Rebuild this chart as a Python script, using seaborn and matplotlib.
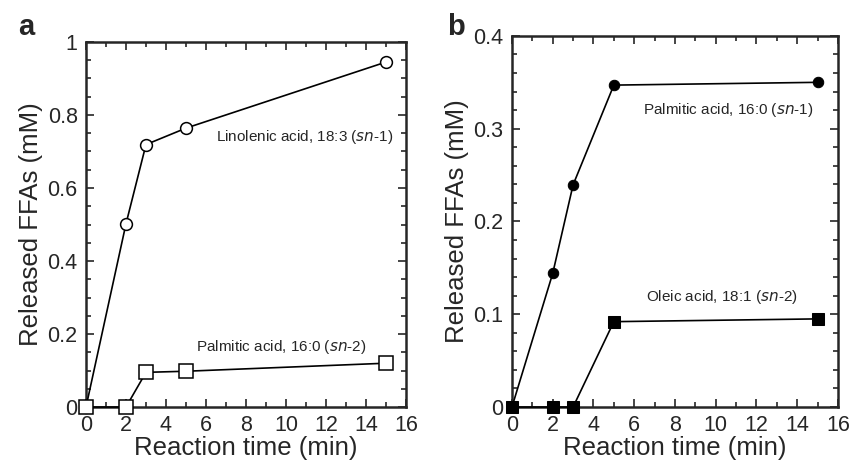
import matplotlib
matplotlib.use("Agg")
import matplotlib.pyplot as plt
import matplotlib.ticker as mticker
import seaborn as sns

# panel a
time_a = [0, 2, 3, 5, 15]
linolenic_sn1 = [0, 0.502, 0.719, 0.764, 0.945]
palmitic_sn2 = [0, 0, 0.095, 0.098, 0.12]

# panel b
time_b = [0, 2, 3, 5, 15]
palmitic_sn1 = [0, 0.144, 0.2395, 0.347, 0.35]
oleic_sn2 = [0, 0, 0, 0.092, 0.095]

sns.set_style("ticks")
plt.rcParams['font.family'] = ['Liberation Sans', 'DejaVu Sans']

fig = plt.figure(figsize=(8.6, 4.65), dpi=100)
ax_a = fig.add_axes([0.100, 0.1247, 0.372, 0.785])
ax_b = fig.add_axes([0.5953, 0.1247, 0.3791, 0.798])


def style_axes(ax, ymax, ymajor, yminor):
    ax.set_xlim(0, 16)
    ax.set_ylim(0, ymax)
    ax.xaxis.set_major_locator(mticker.MultipleLocator(2))
    ax.xaxis.set_minor_locator(mticker.MultipleLocator(1))
    ax.yaxis.set_major_locator(mticker.MultipleLocator(ymajor))
    ax.yaxis.set_minor_locator(mticker.MultipleLocator(yminor))
    ax.yaxis.set_major_formatter(mticker.FuncFormatter(lambda v, p: "%g" % round(v, 3)))
    ax.tick_params(which="both", direction="in", top=True, right=True,
                   width=1.2, labelsize=15.5)
    ax.tick_params(axis="x", which="major", pad=6)
    ax.tick_params(axis="y", which="major", pad=6)
    ax.tick_params(which="major", length=6)
    ax.tick_params(which="minor", length=3.5)
    for s in ax.spines.values():
        s.set_linewidth(1.8)
    ax.set_xlabel("Reaction time (min)", fontsize=18.5, labelpad=0)
    ax.set_ylabel("Released FFAs (mM)", fontsize=18.5, labelpad=3)


# panel a
sns.lineplot(x=time_a, y=linolenic_sn1, ax=ax_a, color="black", lw=1.2,
             marker="o", markersize=8.5, markerfacecolor="white",
             markeredgecolor="black", markeredgewidth=1.1, clip_on=False, zorder=5)
sns.lineplot(x=time_a, y=palmitic_sn2, ax=ax_a, color="black", lw=1.2,
             marker="s", markersize=9.5, markerfacecolor="white",
             markeredgecolor="black", markeredgewidth=1.1, clip_on=False, zorder=5)
style_axes(ax_a, 1.0, 0.2, 0.05)
ax_a.text(15.35, 0.74, "Linolenic acid, 18:3 ($\\it{sn}$-1)", ha="right", va="center", fontsize=11)
ax_a.text(14.0, 0.164, "Palmitic acid, 16:0 ($\\it{sn}$-2)", ha="right", va="center", fontsize=11)
fig.text(0.031, 0.942, "a", fontsize=21, fontweight="bold", ha="center", va="center")

# panel b
sns.lineplot(x=time_b, y=palmitic_sn1, ax=ax_b, color="black", lw=1.2,
             marker="o", markersize=7.5, markerfacecolor="black",
             markeredgecolor="black", clip_on=False, zorder=5)
sns.lineplot(x=time_b, y=oleic_sn2, ax=ax_b, color="black", lw=1.2,
             marker="s", markersize=8, markerfacecolor="black",
             markeredgecolor="black", clip_on=False, zorder=5)
style_axes(ax_b, 0.4, 0.1, 0.02)
ax_b.text(14.77, 0.32, "Palmitic acid, 16:0 ($\\it{sn}$-1)", ha="right", va="center", fontsize=11)
ax_b.text(14.04, 0.119, "Oleic acid, 18:1 ($\\it{sn}$-2)", ha="right", va="center", fontsize=11)
fig.text(0.530, 0.942, "b", fontsize=21, fontweight="bold", ha="center", va="center")

fig.savefig("out.png", dpi=100)
